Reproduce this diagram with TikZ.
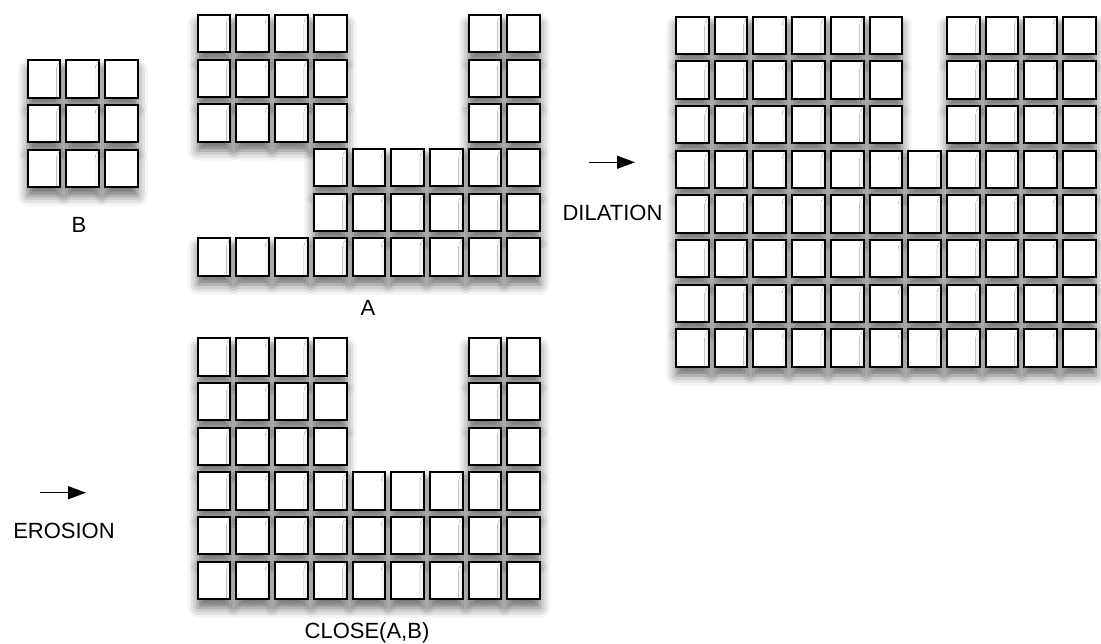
\documentclass[tikz,border=0pt]{standalone}
\usepackage{fontspec}
\setmainfont{Liberation Sans}
\usetikzlibrary{arrows.meta, shadows.blur}
\tikzset{
  cell/.style  = {draw, line width=1pt, fill=white, inner sep=0pt,
                  minimum width=16.35pt, minimum height=18.65pt,
                  blur shadow={shadow xshift=0pt, shadow yshift=-4.5pt,
                               shadow blur radius=5pt, shadow opacity=60}},
  lbl/.style   = {anchor=base, inner sep=0pt, font=\fontsize{11}{13}\selectfont},
  arrow/.style = {-{Triangle[length=9pt, width=6.5pt]}, line width=0.7pt},
}
\newcommand{\colstep}{38.7}
\newcommand{\rowstep}{44.65}

\begin{document}
\begin{tikzpicture}[x=0.5pt, y=-0.5pt]
  \useasboundingbox (0,0) rectangle (1101,643);

  % structuring element B
  \begin{scope}[shift={(44,79)}]
    \foreach \r in {0,1,2}
      \foreach \c in {0,1,2}
        \node[cell] (b-\r-\c) at (\c*\colstep, \r*\rowstep) {};
  \end{scope}
  \node[lbl] (labB) at (79,232) {B};

  % set A
  \begin{scope}[shift={(214.05,33.65)}]
    \foreach \r in {0,1,2}
      \foreach \c in {0,1,2,3,7,8}
        \node[cell] (a-\r-\c) at (\c*\colstep, \r*\rowstep) {};
    \foreach \r in {3,4}
      \foreach \c in {3,...,8}
        \node[cell] (a-\r-\c) at (\c*\colstep, \r*\rowstep) {};
    \foreach \c in {0,...,8}
      \node[cell] (a-5-\c) at (\c*\colstep, 5*\rowstep) {};
  \end{scope}
  \node[lbl] (labA) at (368,315) {A};

  % dilation of A by B
  \coordinate (dilS) at (589,162.3);
  \coordinate (dilE) at (635,162.3);
  \draw[arrow] (dilS) -- (dilE);
  \node[lbl] (labDil) at (612.5,220) {DILATION};
  \begin{scope}[shift={(692.35,35.35)}]
    \foreach \r in {0,1,2}
      \foreach \c in {0,...,5,7,8,9,10}
        \node[cell] (dil-\r-\c) at (\c*\colstep, \r*\rowstep) {};
    \foreach \r in {3,...,7}
      \foreach \c in {0,...,10}
        \node[cell] (dil-\r-\c) at (\c*\colstep, \r*\rowstep) {};
  \end{scope}

  % erosion -> closing
  \coordinate (eroS) at (40,492.7);
  \coordinate (eroE) at (86,492.7);
  \draw[arrow] (eroS) -- (eroE);
  \node[lbl] (labEro) at (64,538.3) {EROSION};
  \begin{scope}[shift={(214.05,356.95)}]
    \foreach \r in {0,1,2}
      \foreach \c in {0,1,2,3,7,8}
        \node[cell] (cls-\r-\c) at (\c*\colstep, \r*\rowstep) {};
    \foreach \r in {3,4,5}
      \foreach \c in {0,...,8}
        \node[cell] (cls-\r-\c) at (\c*\colstep, \r*\rowstep) {};
  \end{scope}
  \node[lbl] (labCls) at (367,638.3) {CLOSE(A,B)};
\end{tikzpicture}
\end{document}
